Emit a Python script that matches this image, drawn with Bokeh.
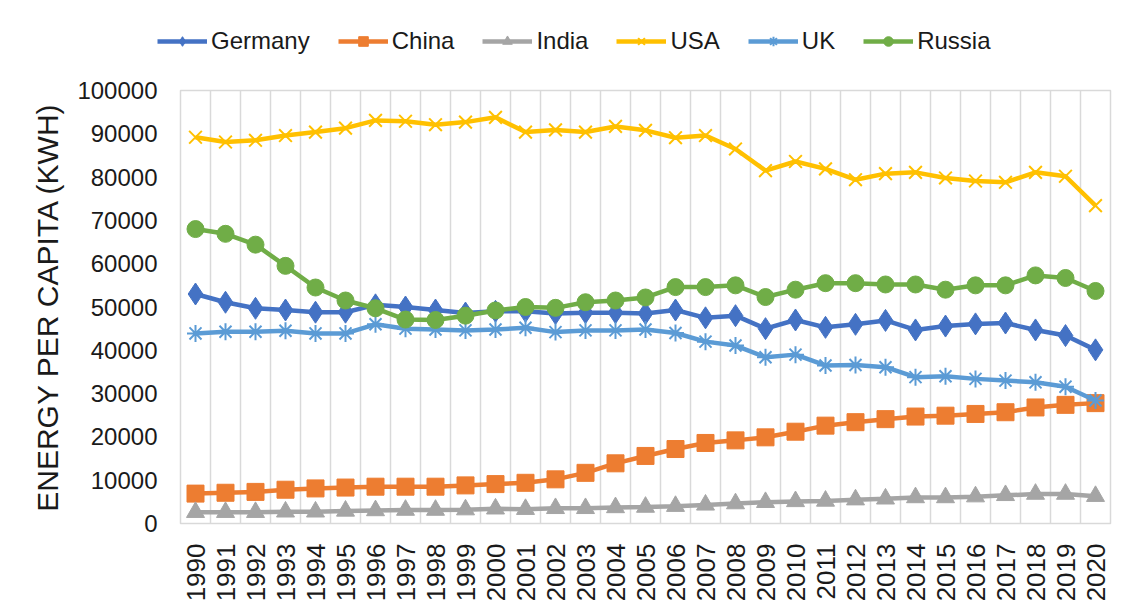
from bokeh.plotting import figure
from bokeh.models import (FixedTicker, NumeralTickFormatter, Legend, LegendItem, Range1d)
from bokeh.embed import file_html
from bokeh.resources import INLINE
import math

YEARS = list(range(1990, 2021))
GERMANY = [53000, 51100, 49700, 49300, 48800, 48800, 50500, 50000, 49300, 48600, 49000,
           49000, 48500, 48700, 48700, 48500, 49300, 47500, 48000, 45000, 47000,
           45300, 46000, 46900, 44700, 45600, 46100, 46300, 44700, 43400, 40100]
CHINA = [6900, 7100, 7300, 7800, 8100, 8300, 8500, 8500, 8500, 8800, 9100,
         9400, 10200, 11700, 13900, 15600, 17200, 18600, 19200, 19900, 21200,
         22600, 23400, 24100, 24700, 24900, 25300, 25700, 26800, 27400, 27800]
INDIA = [2600, 2600, 2600, 2700, 2700, 2900, 3000, 3100, 3100, 3200, 3400,
         3300, 3500, 3500, 3700, 3800, 4000, 4300, 4600, 4900, 5100,
         5200, 5500, 5700, 6000, 6000, 6200, 6500, 6800, 6800, 6300]
USA = [89200, 88100, 88500, 89600, 90400, 91300, 93100, 92900, 92100, 92700, 93800,
       90400, 90900, 90400, 91700, 90800, 89100, 89600, 86500, 81500, 83600,
       81900, 79400, 80800, 81100, 79800, 79100, 78800, 81100, 80200, 73400]
UK = [43900, 44300, 44300, 44500, 43900, 43900, 46000, 45000, 44800, 44600, 44800,
      45200, 44200, 44600, 44600, 44800, 44000, 42000, 41100, 38400, 39000,
      36500, 36600, 36100, 33800, 34000, 33400, 33000, 32600, 31600, 28400]
RUSSIA = [68000, 66900, 64400, 59500, 54500, 51500, 49700, 47100, 47000, 48000, 49200,
          50000, 49800, 51100, 51500, 52200, 54600, 54600, 55000, 52300, 54000,
          55500, 55500, 55200, 55200, 54000, 55000, 55000, 57300, 56700, 53700]
SERIES_NAMES = ["Germany", "China", "India", "USA", "UK", "Russia"]
Y_TICKS = list(range(0, 100001, 10000))
Y_LABEL = "ENERGY PER CAPITA (KWH)"

FONT = "Liberation Sans"
LEG_H = 60

# legend strip (its frame spans the whole strip)
pl = figure(width=1122, height=LEG_H, output_backend="svg", toolbar_location=None,
            x_range=Range1d(0, 1), y_range=Range1d(0, 1),
            x_axis_type=None, y_axis_type=None,
            min_border_left=0, min_border_right=0, min_border_top=0, min_border_bottom=0)
pl.outline_line_color = None
pl.xgrid.visible = False
pl.ygrid.visible = False

# main chart
p = figure(width=1122, height=607 - LEG_H, output_backend="svg", toolbar_location=None,
           x_range=Range1d(YEARS[0] - 0.5, YEARS[-1] + 0.5),
           y_range=Range1d(Y_TICKS[0], Y_TICKS[-1]),
           min_border_left=180, min_border_right=12, min_border_top=90 - LEG_H,
           min_border_bottom=84)

p.outline_line_color = "#d9d9d9"
p.outline_line_width = 1.5
p.ygrid.visible = False
p.xgrid.ticker = FixedTicker(ticks=[y - 0.5 for y in YEARS] + [YEARS[-1] + 0.5])
p.xgrid.grid_line_color = "#d9d9d9"
p.xgrid.grid_line_width = 1.5

p.xaxis.ticker = FixedTicker(ticks=YEARS)
p.xaxis.major_label_overrides = {y: str(y) for y in YEARS}
p.xaxis.major_label_orientation = math.pi / 2
p.yaxis.ticker = FixedTicker(ticks=Y_TICKS)
p.yaxis.formatter = NumeralTickFormatter(format="0")
for ax in (p.xaxis[0], p.yaxis[0]):
    ax.axis_line_color = None
    ax.major_tick_line_color = None
    ax.minor_tick_line_color = None
    ax.major_label_text_font = FONT
    ax.major_label_text_color = "#1a1a1a"
p.xaxis.major_label_text_font_size = "26px"
p.xaxis.major_label_standoff = 14
p.yaxis.major_label_text_font_size = "24px"
p.yaxis.major_label_standoff = 17
p.yaxis.axis_label = Y_LABEL
p.yaxis.axis_label_text_font = FONT
p.yaxis.axis_label_text_font_size = "30px"
p.yaxis.axis_label_text_font_style = "normal"
p.yaxis.axis_label_text_color = "#1a1a1a"
p.yaxis.axis_label_standoff = 10

styles = [
    (GERMANY, "#4472C4", "diamond", 22, 1),
    (CHINA, "#ED7D31", "square", 17, 1),
    (INDIA, "#A5A5A5", "triangle", 18, 1),
    (USA, "#FFC000", "x", 18, 2),
    (UK, "#5B9BD5", "asterisk", 17, 2),
    (RUSSIA, "#70AD47", "circle", 17, 1),
]
items = []
for name, (vals, color, marker, size, lw) in zip(SERIES_NAMES, styles):
    p.line(YEARS, vals, line_color=color, line_width=4.5)
    p.scatter(YEARS, vals, marker=marker, size=size, fill_color=color,
              line_color=color, line_width=lw)
    # legend-only copies in the legend strip (their points fall outside its ranges)
    ln = pl.line(YEARS, vals, line_color=color, line_width=4.5)
    sc = pl.scatter(YEARS, vals, marker=marker, size=size, fill_color=color,
                    line_color=color, line_width=lw)
    items.append(LegendItem(label=name, renderers=[ln, sc]))

legend = Legend(items=items, orientation="horizontal", location=(157, 5))
legend.label_text_font = FONT
legend.label_text_font_size = "24px"
legend.label_text_color = "#1a1a1a"
legend.glyph_width = 50
legend.glyph_height = 24
legend.label_height = 24
legend.label_standoff = 4
legend.spacing = 28
legend.padding = 0
legend.margin = 0
legend.border_line_alpha = 0
legend.background_fill_alpha = 0
pl.add_layout(legend, "center")

open("out.html", "w").write(file_html([pl, p], INLINE))
